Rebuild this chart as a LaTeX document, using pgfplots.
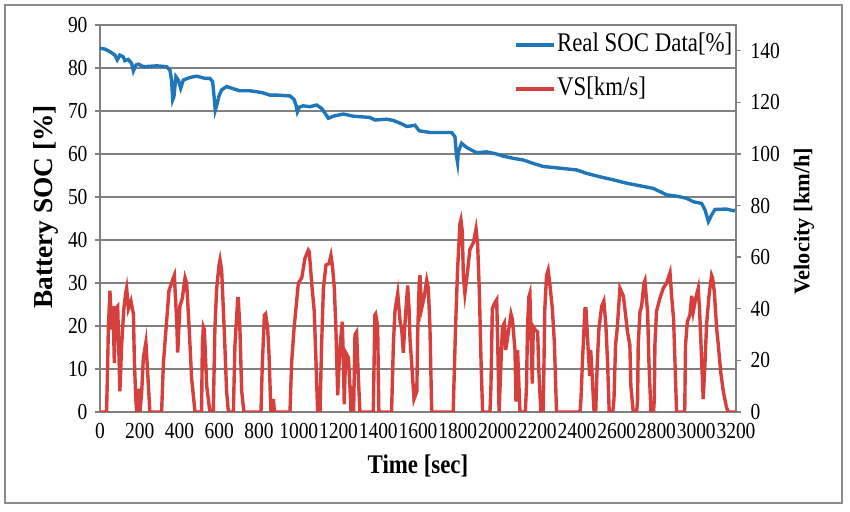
\documentclass[border=0pt]{standalone}
\usepackage{fontspec}
\setmainfont{Liberation Serif}[FakeStretch=0.85]
\newfontfamily\rotfont{Liberation Serif}
\usepackage{pgfplots}
\pgfplotsset{compat=1.18}
\definecolor{socblue}{RGB}{31,119,186}
\definecolor{vsred}{RGB}{214,64,60}
\definecolor{gridgray}{RGB}{128,128,128}
\definecolor{framegray}{RGB}{140,140,140}
\begin{document}
\begin{tikzpicture}
\path[use as bounding box] (-100bp,-100bp) rectangle (750bp,412bp);
\draw[framegray, line width=1.5bp] (-95bp,-91bp) rectangle (742bp,407bp);
\begin{axis}[
  at={(0,0)}, anchor=south west, scale only axis,
  width=636bp, height=387bp,
  xmin=0, xmax=3200, ymin=0, ymax=90,
  xtick={0,200,...,3200}, ytick={0,10,...,90},
  ymajorgrids, grid style={gridgray, line width=2.2bp},
  axis line style={gridgray, line width=2.2bp},
  tick align=outside, major tick length=5bp,
  xtick style={draw=none}, ytick style={gridgray, line width=2.2bp},
  ytick pos=left, xtick pos=bottom,
  tick label style={font=\fontsize{23}{23}\selectfont},
  /pgf/number format/assume math mode=true,
  /pgf/number format/1000 sep={},
  yticklabel style={xshift=-4bp},
  xticklabel style={yshift=-3bp},
  xlabel={Time [sec]},
  xlabel style={font=\fontsize{27}{27}\selectfont\bfseries, at={(axis description cs:0.5,-0.1395)}, anchor=center},
  ylabel={Battery SOC [\%]},
  ylabel style={font=\rotfont\fontsize{27.5}{27.5}\selectfont\bfseries, at={(axis description cs:-0.085,0.53)}, anchor=center},
]
\addplot[socblue, line width=3.4bp] coordinates {
(0,84.6) (25,84.4) (50,83.8) (75,83) (87,81.9) (100,83) (117,82.6) (125,81.7) (142,82) (159,81.1) (168,79.3) (181,80.7) (193,80.9) (218,80.3) (285,80.5) (335,80.3) (352,79.5) (360,77.2) (366,72.6) (372,73.3) (382,78) (394,77.2) (406,75.3) (419,77.2) (453,77.8) (486,78.1) (528,77.6) (553,77.6) (567,76.8) (574,73.3) (580,70.2) (590,71.8) (600,73.7) (612,74.9) (637,75.7) (662,75.3) (704,74.7) (755,74.7) (813,74.3) (855,73.7) (889,73.7) (956,73.5) (976,72.7) (986,71.4) (993,69.8) (1003,70.9) (1023,71.2) (1056,71) (1090,71.4) (1115,70.6) (1132,69.5) (1149,68.3) (1174,68.8) (1224,69.3) (1274,68.8) (1300,68.7) (1358,68.5) (1384,67.9) (1442,68.1) (1476,67.8) (1518,67) (1543,66.4) (1560,66.5) (1585,66.7) (1606,65.4) (1660,65) (1769,65) (1786,64) (1794,59.4) (1799,58) (1803,60.5) (1819,62.5) (1845,61.5) (1895,60.3) (1945,60.5) (1995,60) (2029,59.5) (2079,59) (2130,58.6) (2180,57.8) (2230,57.1) (2314,56.7) (2398,56.3) (2448,55.5) (2515,54.7) (2582,54) (2650,53.2) (2717,52.6) (2784,52) (2851,50.5) (2901,50.2) (2951,49.7) (2985,48.9) (3027,48.5) (3044,47) (3061,44.3) (3077,45.8) (3094,47.1) (3153,47.2) (3186,46.8) (3200,47)
};
\end{axis}
\begin{axis}[
  at={(0,0)}, anchor=south west, scale only axis,
  width=636bp, height=387bp,
  xmin=0, xmax=3200, ymin=0, ymax=150,
  axis x line=none, axis y line*=right,
  ytick={0,20,...,140},
  axis line style={gridgray, line width=2.2bp},
  tick align=outside, major tick length=5bp,
  ytick style={gridgray, line width=1.4bp},
  tick label style={font=\fontsize{23}{23}\selectfont},
  /pgf/number format/assume math mode=true,
  yticklabel style={xshift=6bp},
  ylabel={Velocity [km/h]},
  ylabel style={font=\rotfont\fontsize{22.5}{22.5}\selectfont\bfseries, at={(axis description cs:1.107,0.4935)}, anchor=center},
  legend cell align=left,
  legend style={at={(axis description cs:1,1)}, anchor=north east, draw=none, fill=none,
    font=\fontsize{27}{27}\selectfont, row sep=16bp, inner sep=0pt, xshift=-2bp, yshift=-6bp,
    nodes={inner sep=1.5bp, text height=19bp, text depth=6bp}},
  legend image code/.code={\draw[#1] (0bp,0bp) -- (38bp,0bp);},
]
\addlegendimage{socblue, line width=3.4bp}
\addlegendentry{Real SOC Data[\%]}
\addplot[vsred, line width=3.4bp] coordinates {
(0,0) (33,0) (37,13) (42,32) (50,47) (59,32) (66,41) (72,19) (78,40) (89,41) (100,8) (109,26) (120,40) (129,46) (134,48) (143,40) (156,43) (168,38) (173,20) (180,5) (185,0) (193,9) (201,0) (210,8) (218,21) (231,27) (240,15) (251,0)
(310,0) (319,19) (332,32) (347,47) (369,52) (374,53) (386,35) (391,23) (402,41) (414,44) (428,52) (436,50) (449,32) (461,13) (478,0)
(511,0) (515,26) (520,33) (525,32) (537,10) (553,0)
(570,0) (578,32) (587,48) (599,57) (604,59) (612,55) (625,32) (637,8) (646,0)
(671,0) (679,26) (693,44) (696,44) (704,32) (713,8) (724,0)
(810,0) (816,17) (827,37.5) (833,38) (843,33) (850,23) (860,0) (868,0) (872,5) (878,0)
(956,0) (964,19) (976,32) (998,50) (1015,52) (1031,59.5) (1048,62.7) (1053,62) (1065,50) (1078,39) (1087,19) (1095,0)
(1107,0) (1115,26) (1124,48) (1137,57) (1152,57.5) (1162,60.7) (1169,57) (1179,48) (1187,32) (1196,6.5) (1204,20) (1213,30) (1219,35) (1224,22) (1229,3) (1236,23) (1250,21) (1258,9) (1263,0) (1269,10) (1276,0) (1283,30) (1291,31) (1300,13) (1308,0)
(1375,0) (1383,37.5) (1387,38) (1397,33) (1403,0)
(1467,0) (1476,26) (1484,39) (1498,46) (1510,35) (1518,32) (1526,23) (1535,35) (1548,49) (1555,40) (1560,28) (1568,19) (1580,5) (1594,8) (1599,32) (1606,50) (1610,53) (1618,40) (1632,45) (1644,51) (1652,48) (1660,33) (1669,0)
(1777,0) (1789,33) (1799,55) (1811,73) (1816,74.5) (1823,70) (1828,53) (1836,46) (1850,55) (1861,63) (1878,65.5) (1892,71) (1900,65) (1909,46) (1917,20) (1925,0)
(1962,0) (1967,10) (1974,40) (1984,42) (1996,43.5) (2001,27) (2008,0) (2018,20) (2025,33) (2035,34.5) (2041,24) (2051,29) (2068,38) (2075,36) (2088,24) (2093,4) (2101,24) (2113,0)
(2140,0) (2146,10) (2151,33) (2158,44.7) (2163,46) (2172,20) (2175,11) (2180,33) (2188,32) (2202,31) (2208,16) (2218,0) (2230,0) (2238,40) (2247,53) (2255,55) (2264,49) (2276,40) (2286,27) (2297,0)
(2415,0) (2420,5) (2427,19) (2440,40) (2445,40) (2450,33) (2457,23) (2464,14) (2469,24) (2477,13) (2486,0)
(2494,0) (2502,19) (2510,32) (2524,41) (2535,43) (2545,34) (2554,19) (2562,0)
(2580,0) (2586,5) (2594,26) (2602,32) (2616,48) (2633,45) (2641,40) (2654,31) (2666,26) (2671,10) (2683,0)
(2700,0) (2705,5) (2708,26) (2717,39) (2725,41) (2737,50) (2742,51) (2748,45) (2755,39) (2762,19) (2772,0)
(2785,0) (2789,5) (2792,26) (2800,39) (2817,44) (2834,48) (2851,50) (2868,54) (2876,45) (2886,36) (2893,19) (2901,0)
(2942,0) (2946,26) (2955,35) (2968,37.5) (2977,45) (2985,39) (2997,44) (3010,48) (3017,39) (3024,26) (3035,5) (3044,19) (3052,34) (3064,45) (3077,53) (3082,52) (3091,46.5) (3103,32) (3111,26) (3123,15.5) (3136,8) (3153,1.5) (3162,0) (3200,0)
};
\addlegendentry{VS[km/s]}
\end{axis}
\end{tikzpicture}
\end{document}
